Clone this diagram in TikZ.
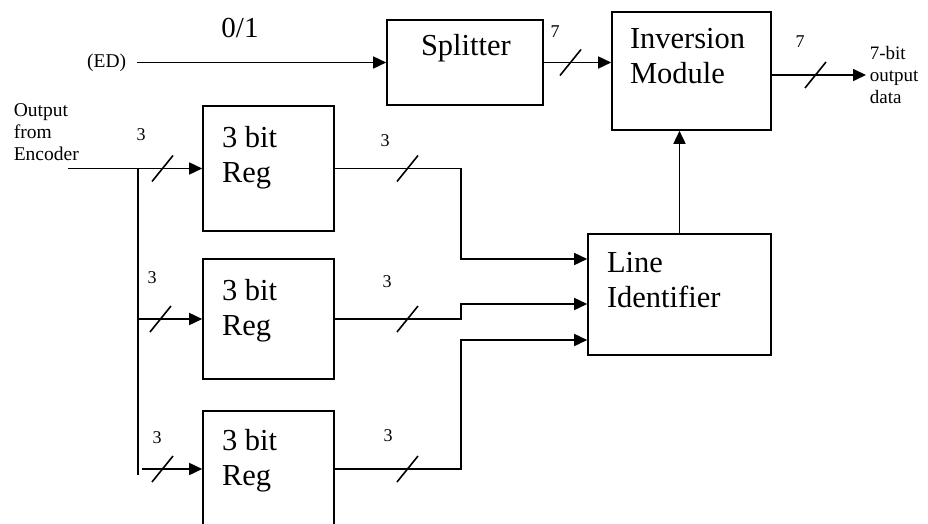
\documentclass[tikz,border=0pt]{standalone}
\usepackage{fontspec}
\setmainfont{Liberation Serif}
\usetikzlibrary{arrows.meta,positioning}
\tikzset{
  blk/.style={draw, inner sep=0pt},
  blktxt/.style={align=left, inner sep=0pt, font=\fontsize{30.5}{35}\selectfont},
  lbl/.style={inner sep=0pt, font=\fontsize{18}{20}\selectfont},
  sidetxt/.style={align=left, inner sep=0pt, font=\fontsize{19.5}{22}\selectfont},
}
\newcommand{\busmark}[1]{\draw (#1)+(-10,13) -- +(11,-13);}

\begin{document}
\begin{tikzpicture}[x=1pt, y=-1pt, >={Triangle[length=13pt,width=12pt]}, line width=1.6pt]
\clip (0,0) rectangle (928,524);
% blocks
\node[blk, minimum width=156pt, minimum height=85pt] (split) at (465,62.5) {};
\node[blk, minimum width=159pt, minimum height=118pt] (inv) at (691.5,71) {};
\node[blk, minimum width=131pt, minimum height=125pt] (reg1) at (268.5,168.5) {};
\node[blk, minimum width=131pt, minimum height=120pt] (reg2) at (268.5,319) {};
\node[blk, minimum width=131pt, minimum height=123pt] (reg3) at (268.5,472.5) {};
\node[blk, minimum width=183pt, minimum height=121pt] (lid) at (679.5,294.5) {};
% block texts
\node[blktxt, below right=14pt and 34pt of split.north west] (splittxt) {Splitter};
\node[blktxt, below right=16.8pt and 18pt of inv.north west] (invtxt) {Inversion\\Module};
\node[blktxt, below right=20pt and 19pt of reg1.north west] (reg1txt) {3 bit\\Reg};
\node[blktxt, below right=20pt and 19pt of reg2.north west] (reg2txt) {3 bit\\Reg};
\node[blktxt, below right=18.5pt and 19pt of reg3.north west] (reg3txt) {3 bit\\Reg};
\node[blktxt, below right=18.5pt and 19pt of lid.north west] (lidtxt) {Line\\Identifier};
% outer texts
\node[inner sep=0pt, font=\fontsize{29}{32}\selectfont] (sel) at (240,28) {0/1};
\node[sidetxt, anchor=east, inner xsep=10pt] (ed) at (137,62.5) {(ED)};
\node[sidetxt, anchor=north west] (enc) at (13,102.4) {Output\\from\\Encoder};
\node[sidetxt, anchor=west, inner xsep=3pt, font=\fontsize{19}{22}\selectfont] (out) at (866,75) {7-bit\\output\\data};
% top row
\draw[->] (ed) -- (split);
\draw[->] (split.east) -- (split.east -| inv.west);
\busmark{570,62.5}
\node[lbl] (w1) at (555,32) {7};
\draw[->] (inv.east |- out.west) -- (out.west);
\busmark{815,75}
\node[lbl] (w2) at (800,42) {7};
\draw[->] (lid.north) -- (lid.north |- inv.south);
% inputs of the registers
\coordinate (encin) at (68,168.5);
\coordinate (bustop) at (138,168.5);
\coordinate (busbot) at (138,475);
\coordinate (r3in) at (142,469);
\draw (bustop) -- (busbot);
\draw[->] (encin) -- (reg1.west);
\draw[->] (bustop |- reg2.west) -- (reg2.west);
\draw[->] (r3in) -- (r3in -| reg3.west);
\busmark{162,168.5}
\busmark{160,319}
\busmark{162,469}
\node[lbl] (w3) at (141,135) {3};
\node[lbl] (w4) at (152,278) {3};
\node[lbl] (w5) at (157,438) {3};
% outputs of the registers
\draw[->] (reg1.east) -| (461,259) -- (lid.west |- 0,259);
\draw[->] (reg2.east) -| (461,304) -- (lid.west |- 0,304);
\draw[->] (r3in -| reg3.east) -| (461,340) -- (lid.west |- 0,340);
\busmark{407,168.5}
\busmark{407,319}
\busmark{407,469}
\node[lbl] (w6) at (385,141) {3};
\node[lbl] (w7) at (387,282) {3};
\node[lbl] (w8) at (388,436) {3};
\end{tikzpicture}
\end{document}
